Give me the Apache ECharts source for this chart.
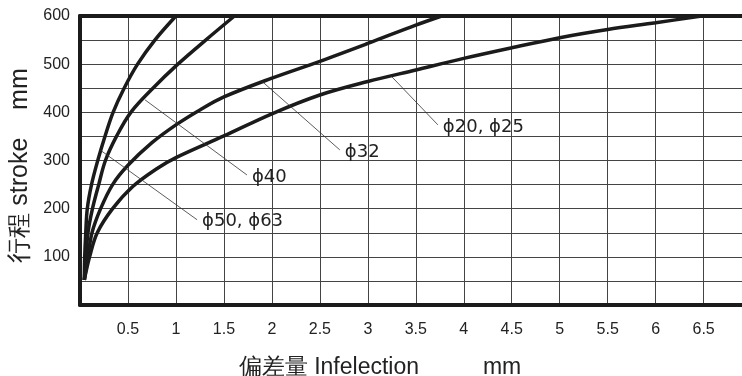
<!DOCTYPE html>
<html>
<head>
<meta charset="utf-8">
<script src="https://cdn.jsdelivr.net/npm/echarts@6/dist/echarts.min.js"></script>
<style>
    html, body { margin: 0; padding: 0; background: #fff; }
    #chartDiv { width: 742px; height: 376px; }
</style>
</head>
<body>
<div id="chartDiv"></div>
<script>
// 曲线名称
var seriesNames = ['ϕ50, ϕ63', 'ϕ40', 'ϕ32', 'ϕ20, ϕ25'];

// 偏差量(mm), 行程(mm)
var curveD50 = [[0.045, 52], [0.049, 100], [0.06, 150], [0.076, 200], [0.12, 250], [0.185, 300],
    [0.26, 350], [0.345, 400], [0.46, 450], [0.6, 500], [0.78, 550], [1.0, 600]];
var curveD40 = [[0.045, 52], [0.063, 100], [0.083, 150], [0.13, 200], [0.195, 250], [0.265, 300],
    [0.38, 350], [0.53, 400], [0.76, 450], [1.02, 500], [1.31, 550], [1.61, 600]];
var curveD32 = [[0.045, 52], [0.083, 100], [0.125, 150], [0.215, 200], [0.34, 250], [0.5, 290],
    [0.75, 337], [1.0, 374], [1.25, 405], [1.5, 432], [2.0, 471], [2.5, 506], [3.0, 543],
    [3.5, 581], [3.77, 600]];
var curveD20 = [[0.045, 52], [0.1, 100], [0.18, 150], [0.34, 200], [0.55, 246], [0.8, 283],
    [1.0, 306], [1.5, 351], [2.0, 397], [2.5, 436], [3.0, 464], [3.5, 488],
    [4.0, 512], [4.5, 534], [5.0, 555], [5.5, 572], [6.0, 586], [6.48, 600]];

// 引出线 (起点在曲线上, 终点接文字)
var leaderD50 = [[0.208, 322], [1.22, 177]];
var leaderD40 = [[0.677, 426], [1.74, 270]];
var leaderD32 = [[1.893, 465], [2.708, 322]];
var leaderD20 = [[3.24, 476], [3.73, 374]];

var curves = [curveD50, curveD40, curveD32, curveD20];
var leaders = [leaderD50, leaderD40, leaderD32, leaderD20];

var chart = echarts.init(document.getElementById('chartDiv'));

var series = [];
for (var i = 0; i < curves.length; i++) {
    series.push({
        name: seriesNames[i],
        type: 'line',
        data: curves[i],
        smooth: 0.35,
        symbol: 'none',
        lineStyle: {color: '#1b1b1b', width: 3.5}
    });
}
for (var i = 0; i < leaders.length; i++) {
    series.push({
        name: seriesNames[i],
        type: 'line',
        data: leaders[i],
        symbol: 'none',
        silent: true,
        lineStyle: {color: '#333', width: 0.8},
        endLabel: {
            show: true,
            formatter: '{a}',
            distance: 5,
            offset: [0, 2],
            color: '#222',
            fontSize: 18,
            fontFamily: 'DejaVu Sans'
        }
    });
}

var tickFont = {color: '#222', fontSize: 16, fontFamily: 'Liberation Sans'};

var option = {
    animation: false,
    grid: {left: 80, top: 16, right: 0, bottom: 71, outerBoundsMode: 'none'},
    xAxis: [
        {
            type: 'value',
            min: 0,
            max: 6.9,
            interval: 0.5,
            name: '偏差量 Infelection          mm',
            nameLocation: 'middle',
            nameGap: 51,
            nameTextStyle: {color: '#222', fontSize: 23, fontFamily: 'Liberation Sans', padding: [0, 62, 0, 0]},
            axisLine: {show: true, lineStyle: {color: '#1b1b1b', width: 4}},
            axisTick: {show: false},
            axisLabel: {
                margin: 17,
                formatter: function (v) {
                    if (v === 0) return '';
                    if (Math.abs(v * 2 - Math.round(v * 2)) > 1e-6) return '';
                    return String(v);
                },
                color: tickFont.color, fontSize: tickFont.fontSize, fontFamily: tickFont.fontFamily
            },
            splitLine: {show: true, lineStyle: {color: '#444', width: 1}}
        },
        {
            // 上边框
            type: 'value',
            position: 'top',
            min: 0,
            max: 6.9,
            axisLine: {show: true, lineStyle: {color: '#1b1b1b', width: 4}},
            axisTick: {show: false},
            axisLabel: {show: false},
            splitLine: {show: false}
        }
    ],
    yAxis: {
        type: 'value',
        min: 0,
        max: 600,
        interval: 50,
        name: '行程 stroke    mm',
        nameLocation: 'middle',
        nameRotate: 90,
        nameGap: 46,
        nameTextStyle: {color: '#222', fontSize: 25, fontFamily: 'Liberation Sans', padding: [0, 10, 0, 0]},
        axisLine: {show: true, lineStyle: {color: '#1b1b1b', width: 4}},
        axisTick: {show: false},
        axisLabel: {
            margin: 10,
            formatter: function (v) {
                return (v > 0 && v % 100 === 0) ? String(v) : '';
            },
            color: tickFont.color, fontSize: tickFont.fontSize, fontFamily: tickFont.fontFamily
        },
        splitLine: {show: true, lineStyle: {color: '#444', width: 1}}
    },
    series: series
};

chart.setOption(option);
</script>
</body>
</html>
